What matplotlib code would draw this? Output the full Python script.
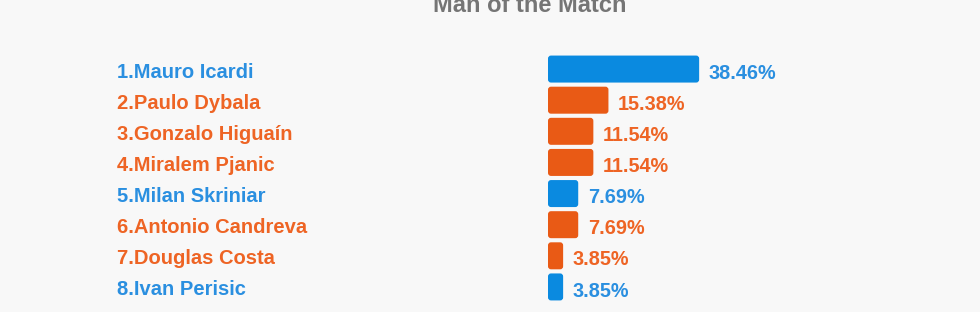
import matplotlib
matplotlib.use("Agg")
import matplotlib.pyplot as plt
from matplotlib.patches import FancyBboxPatch
import matplotlib.transforms as mtransforms

plt.rcParams['font.family'] = ['Liberation Sans', 'DejaVu Sans']

players = ['1.Mauro Icardi', '2.Paulo Dybala', '3.Gonzalo Higuaín', '4.Miralem Pjanic',
           '5.Milan Skriniar', '6.Antonio Candreva', '7.Douglas Costa', '8.Ivan Perisic']
share = [38.46, 15.38, 11.54, 11.54, 7.69, 7.69, 3.85, 3.85]
team = ['inter', 'juve', 'juve', 'juve', 'inter', 'juve', 'juve', 'inter']

bar_col = {'inter': '#0a8ae0', 'juve': '#e95a15'}
txt_col = {'inter': '#2a8fe0', 'juve': '#ee6424'}
bg = '#f8f8f8'

W, H = 980, 312
fig = plt.figure(figsize=(W / 100, H / 100), dpi=100, facecolor=bg)

# axes placed in pixels: bars start at x=548, rows from y=53.5 to 302.5
left, right = 548, 980
top, bottom = 53.5, 302.5
ax = fig.add_axes([left / W, 1 - bottom / H, (right - left) / W, (bottom - top) / H])
ax.set_facecolor(bg)
px_per_unit = 3.93
ax.set_xlim(0, (right - left) / px_per_unit)
n = len(players)
ax.set_ylim(n - 0.5, -0.5)
ax.axis('off')

row_px = (bottom - top) / n
bh = 27 / row_px
bars = ax.barh(range(n), share, height=bh)
r = 3.0 / px_per_unit
aspect = px_per_unit / row_px
for b, t in zip(bars, team):
    b.set_visible(False)
    p = FancyBboxPatch((b.get_x(), b.get_y()), b.get_width(), b.get_height(),
                       boxstyle=f"round,pad=0,rounding_size={r}",
                       mutation_aspect=aspect, fc=bar_col[t], ec='none')
    ax.add_patch(p)

trans = mtransforms.blended_transform_factory(fig.transFigure, ax.transData)
for i, (name, v, t) in enumerate(zip(players, share, team)):
    ax.annotate(name, xy=(117 / W, i), xycoords=trans, xytext=(0, -2.2),
                textcoords='offset points', ha='left', va='center',
                fontsize=14.5, fontweight='bold', color=txt_col[t], annotation_clip=False)
    ax.annotate(f'{v:.2f}%', xy=(v, i), xytext=(7, -3), textcoords='offset points',
                ha='left', va='center', fontsize=14.3, fontweight='bold',
                color=txt_col[t], annotation_clip=False)

fig.text(530 / W, 1 - 12 / H, 'Man of the Match', ha='center', va='baseline',
         fontsize=17, fontweight='bold', color='#757575')

fig.savefig('out.png', dpi=100, facecolor=bg)
